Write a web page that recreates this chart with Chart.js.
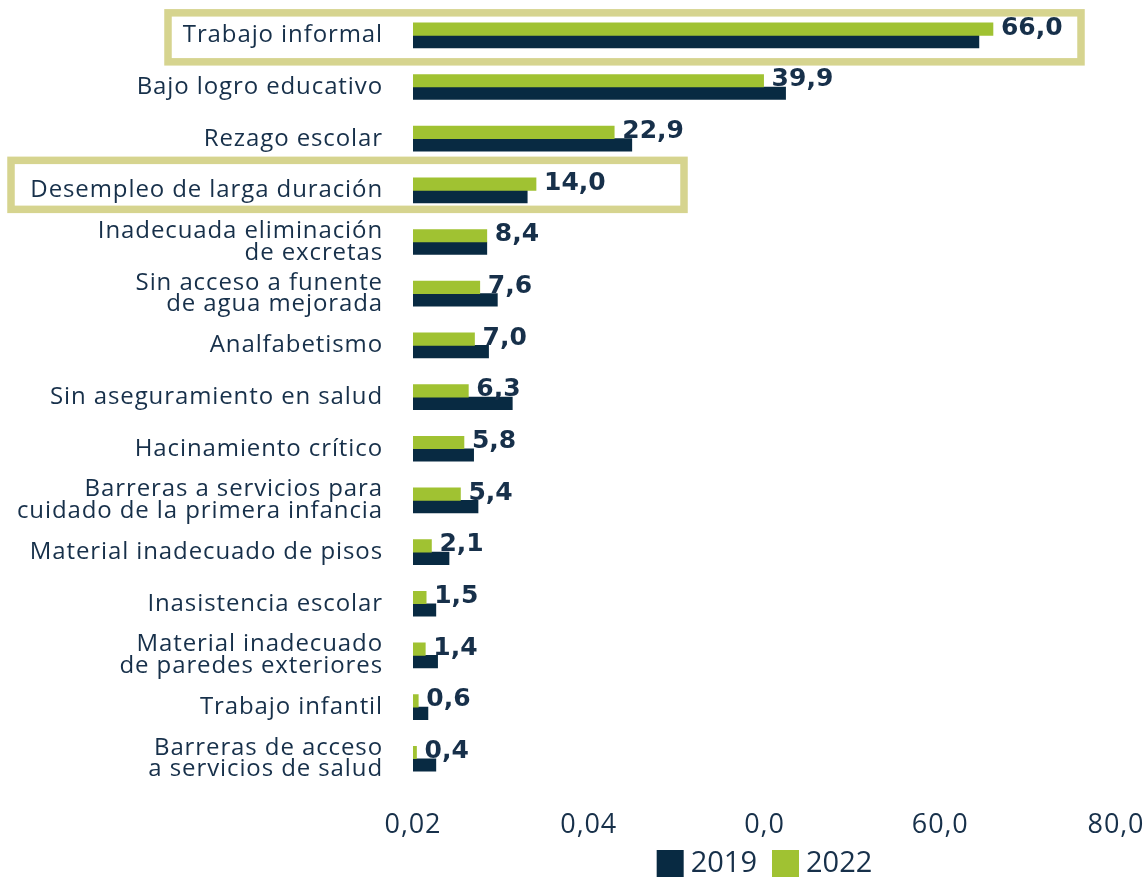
<!DOCTYPE html>
<html>
<head>
<meta charset="utf-8">
<script src="https://cdn.jsdelivr.net/npm/chart.js@4.4.1/dist/chart.umd.min.js"></script>
<style>
    html, body { margin: 0; padding: 0; background: #ffffff; }
    #wrap { width: 1146px; height: 877px; position: relative; }
</style>
</head>
<body>
<div id="wrap"><canvas id="chart"></canvas></div>
<script>
const categories = [
    ["Trabajo informal"],
    ["Bajo logro educativo"],
    ["Rezago escolar"],
    ["Desempleo de larga duración"],
    ["Inadecuada eliminación", "de excretas"],
    ["Sin acceso a funente", "de agua mejorada"],
    ["Analfabetismo"],
    ["Sin aseguramiento en salud"],
    ["Hacinamiento crítico"],
    ["Barreras a servicios para", "cuidado de la primera infancia"],
    ["Material inadecuado de pisos"],
    ["Inasistencia escolar"],
    ["Material inadecuado", "de paredes exteriores"],
    ["Trabajo infantil"],
    ["Barreras de acceso", "a servicios de salud"]
];
const values2019 = [64.4, 42.4, 24.9, 13.0, 8.4, 9.6, 8.6, 11.3, 6.9, 7.4, 4.1, 2.6, 2.8, 1.7, 2.6];
const values2022 = [66.0, 39.9, 22.9, 14.0, 8.4, 7.6, 7.0, 6.3, 5.8, 5.4, 2.1, 1.5, 1.4, 0.6, 0.4];
const xTickLabels = ["0,02", "0,04", "0,0", "60,0", "80,0"];
const highlighted = [0, 3];

const NAVY = "#082a42";
const GREEN = "#a0c232";
const TEXT = "#17304a";
const BOX = "#d6d48f";

function formatValue(v) {
    return v.toFixed(1).replace(".", ",");
}

// the reference type is wider than Open Sans, so space the axis text a little
const textSpacing = {
    id: "textSpacing",
    beforeDraw(chart) { chart.ctx.letterSpacing = "0.9px"; },
    beforeDatasetsDraw(chart) { chart.ctx.letterSpacing = "0px"; }
};

// value labels next to the 2022 bars
const valueLabels = {
    id: "valueLabels",
    afterDatasetsDraw(chart) {
        const ctx = chart.ctx;
        const meta = chart.getDatasetMeta(0);
        ctx.save();
        ctx.font = "bold 25px 'DejaVu Sans'";
        ctx.fillStyle = TEXT;
        ctx.textAlign = "left";
        ctx.textBaseline = "middle";
        meta.data.forEach((bar, i) => {
            ctx.fillText(formatValue(values2022[i]), bar.x + 8, bar.y - 1);
        });
        ctx.restore();
    }
};

// frames around the highlighted rows
const highlightBoxes = {
    id: "highlightBoxes",
    afterDraw(chart) {
        const ctx = chart.ctx;
        const y = chart.scales.y;
        const frames = [
            { left: 168, right: 1081, up: 22.5, down: 26.5 },
            { left: 11, right: 684, up: 30, down: 19 }
        ];
        ctx.save();
        ctx.strokeStyle = BOX;
        ctx.lineWidth = 7.5;
        highlighted.forEach((idx, k) => {
            const f = frames[k];
            const cy = y.getPixelForValue(idx);
            ctx.strokeRect(f.left, cy - f.up, f.right - f.left, f.up + f.down);
        });
        ctx.restore();
    }
};

// legend centred under the plot area
const bottomLegend = {
    id: "bottomLegend",
    afterDraw(chart) {
        const ctx = chart.ctx;
        const area = chart.chartArea;
        const items = [chart.data.datasets[1], chart.data.datasets[0]];
        ctx.save();
        ctx.letterSpacing = "0px";
        ctx.font = "29px 'Open Sans'";
        const box = 27, gap = 7, between = 15;
        let total = 0;
        items.forEach((ds, i) => {
            total += box + gap + ctx.measureText(ds.label).width;
            if (i < items.length - 1) total += between;
        });
        let x = (area.left + area.right) / 2 - total / 2;
        const top = 850, mid = 864;
        ctx.textBaseline = "middle";
        ctx.textAlign = "left";
        items.forEach((ds) => {
            ctx.fillStyle = ds.backgroundColor;
            ctx.fillRect(x, top, box, box);
            x += box + gap;
            ctx.fillStyle = TEXT;
            ctx.fillText(ds.label, x, mid);
            x += ctx.measureText(ds.label).width + between;
        });
        ctx.restore();
    }
};

new Chart(document.getElementById("chart"), {
    type: "bar",
    data: {
        labels: categories,
        datasets: [
            { label: "2022", data: values2022, backgroundColor: GREEN, barThickness: 12.5 },
            { label: "2019", data: values2019, backgroundColor: NAVY, barThickness: 12.5 }
        ]
    },
    options: {
        indexAxis: "y",
        responsive: true,
        maintainAspectRatio: false,
        animation: false,
        layout: { padding: { top: 9.5, bottom: 10, left: 0, right: 0 } },
        plugins: {
            legend: { display: false },
            tooltip: { enabled: false }
        },
        scales: {
            x: {
                min: 0,
                max: 80,
                grid: { display: false, drawTicks: false },
                border: { display: false },
                afterFit(scale) { scale.paddingRight = 30; scale.paddingLeft = 0; },
                ticks: {
                    stepSize: 20,
                    padding: 25,
                    color: TEXT,
                    font: { family: "'Open Sans'", size: 27 },
                    callback: (v, i) => xTickLabels[i]
                }
            },
            y: {
                grid: { display: false, drawTicks: false },
                border: { display: false },
                afterFit(scale) {
                    scale.width = 413;
                    scale.paddingTop = 0;
                    scale.paddingBottom = 0;
                },
                ticks: {
                    padding: 30,
                    color: TEXT,
                    font: { family: "'Open Sans'", size: 24, lineHeight: 0.9 }
                }
            }
        }
    },
    plugins: [textSpacing, valueLabels, highlightBoxes, bottomLegend]
});
</script>
</body>
</html>
